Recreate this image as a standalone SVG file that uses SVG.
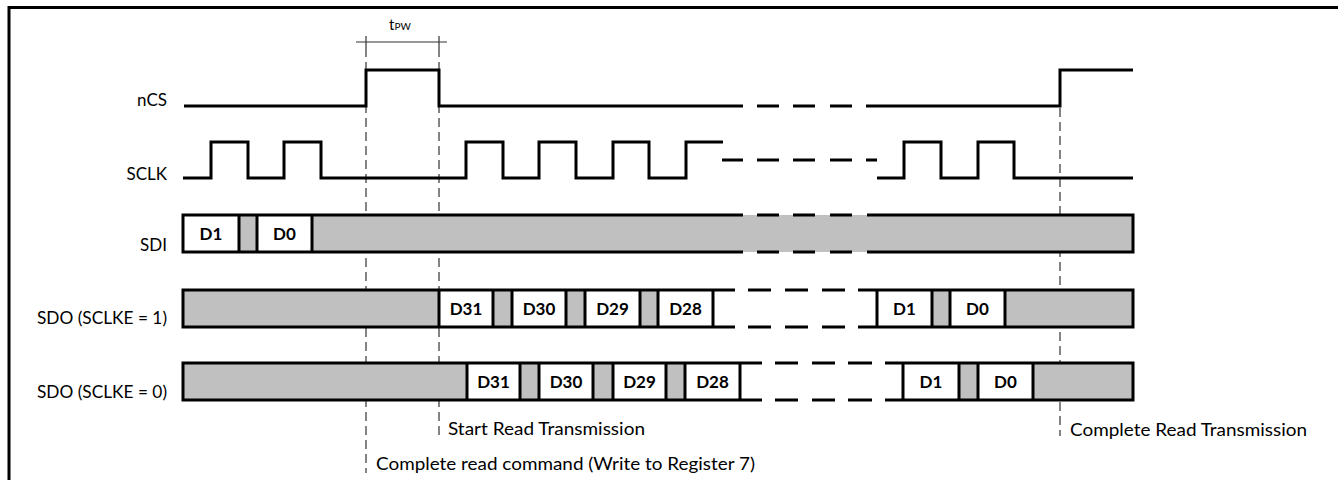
<svg xmlns="http://www.w3.org/2000/svg" width="1338" height="480" viewBox="0 0 1338 480">
<style>
.w{fill:none;stroke:#000;stroke-width:3;stroke-linejoin:miter;stroke-linecap:butt}
.g{fill:#c0c0c0;stroke:none}
.wh{fill:#fff;stroke:none}
.lbl{font-family:Lato,"Liberation Sans",sans-serif;font-size:17px;fill:#000}
.cell{font-family:Lato,"Liberation Sans",sans-serif;font-size:17px;font-weight:bold;fill:#000;text-anchor:middle}
.mk{fill:none;stroke:#333;stroke-width:1.2;stroke-dasharray:9 5}
.tk{fill:none;stroke:#333;stroke-width:1.2}
</style>
<rect width="1338" height="480" fill="#fff"/>
<path d="M9,480 V7.5 H1338" fill="none" stroke="#000" stroke-width="3"/>

<g id="markers">
  <path class="tk" d="M356,42 H447 M366,36 V48 M439,36 V48"/>
  <path class="mk" d="M366,48 V473"/>
  <path class="mk" d="M439,48 V436"/>
  <path class="mk" d="M1060,108 V436"/>
  <text x="389" y="30" font-family="Lato,'Liberation Sans',sans-serif" font-size="15" fill="#000">t<tspan font-size="10">PW</tspan></text>
  <text class="lbl" x="448" y="435" textLength="197" lengthAdjust="spacingAndGlyphs">Start Read Transmission</text>
  <text class="lbl" x="376" y="470" textLength="379" lengthAdjust="spacingAndGlyphs">Complete read command (Write to Register 7)</text>
  <text class="lbl" x="1070" y="436" textLength="237" lengthAdjust="spacingAndGlyphs">Complete Read Transmission</text>
</g>

<g id="nCS">
  <text class="lbl" x="167" y="106" text-anchor="end">nCS</text>
  <path class="w" d="M184,106 H366 V70 H439 V106 H743 M757,106 H779 M793,106 H815 M830,106 H852 M866,106 H1060 V70 H1133"/>
</g>

<g id="SCLK">
  <text class="lbl" x="167" y="180" text-anchor="end">SCLK</text>
  <path class="w" d="M183,178 H211 V142 H248 V178 H284 V142 H321 V178 H466 V142 H503 V178 H539 V142 H576 V178 H613 V142 H649 V178 H686 V142 H723"/>
  <path class="w" d="M722,160 H743 M757,160 H779 M793,160 H815 M830,160 H852 M866,160 H877"/>
  <path class="w" d="M877,178 H904 V142 H941 V178 H978 V142 H1014 V178 H1133"/>
</g>

<g id="SDI">
  <text class="lbl" x="167" y="251" text-anchor="end">SDI</text>
  <rect class="g" x="183" y="215" width="950" height="37"/>
  <rect class="wh" x="183" y="215" width="56" height="37"/>
  <rect class="wh" x="257" y="215" width="55" height="37"/>
  <path class="w" d="M183,215 H743 M757,215 H779 M793,215 H815 M830,215 H852 M867,215 H1133 M183,252 H743 M757,252 H779 M793,252 H815 M830,252 H852 M867,252 H1133 M183,213.5 V253.5 M1133,213.5 V253.5 M239,215 V252 M257,215 V252 M312,215 V252"/>
  <text class="cell" x="211" y="240">D1</text>
  <text class="cell" x="284.5" y="240">D0</text>
</g>

<g id="SDO1">
  <text class="lbl" x="167" y="324" text-anchor="end" textLength="130" lengthAdjust="spacingAndGlyphs">SDO (SCLKE = 1)</text>
  <rect class="g" x="183" y="290" width="256" height="37"/>
  <rect class="g" x="493" y="290" width="19" height="37"/>
  <rect class="g" x="566" y="290" width="19" height="37"/>
  <rect class="g" x="640" y="290" width="18" height="37"/>
  <rect class="g" x="932" y="290" width="18" height="37"/>
  <rect class="g" x="1005" y="290" width="128" height="37"/>
  <path class="w" d="M183,290 H735 M748,290 H771 M785,290 H808 M822,290 H845 M858,290 H1133 M183,327 H735 M748,327 H771 M785,327 H808 M822,327 H845 M858,327 H1133 M183,288.5 V328.5 M1133,288.5 V328.5 M439,290 V327 M493,290 V327 M512,290 V327 M566,290 V327 M585,290 V327 M640,290 V327 M658,290 V327 M713,290 V327 M877,290 V327 M932,290 V327 M950,290 V327 M1005,290 V327"/>
  <text class="cell" x="466" y="315">D31</text>
  <text class="cell" x="539" y="315">D30</text>
  <text class="cell" x="612.5" y="315">D29</text>
  <text class="cell" x="685.5" y="315">D28</text>
  <text class="cell" x="904.5" y="315">D1</text>
  <text class="cell" x="977.5" y="315">D0</text>
</g>

<g id="SDO0">
  <text class="lbl" x="167" y="398" text-anchor="end" textLength="130" lengthAdjust="spacingAndGlyphs">SDO (SCLKE = 0)</text>
  <rect class="g" x="183" y="363" width="284" height="37"/>
  <rect class="g" x="520" y="363" width="19" height="37"/>
  <rect class="g" x="593" y="363" width="20" height="37"/>
  <rect class="g" x="666" y="363" width="19" height="37"/>
  <rect class="g" x="959" y="363" width="19" height="37"/>
  <rect class="g" x="1033" y="363" width="100" height="37"/>
  <path class="w" d="M183,363 H762 M775,363 H798 M812,363 H835 M848,363 H872 M885,363 H1133 M183,400 H762 M775,400 H798 M812,400 H835 M848,400 H872 M885,400 H1133 M183,361.5 V401.5 M1133,361.5 V401.5 M467,363 V400 M520,363 V400 M539,363 V400 M593,363 V400 M613,363 V400 M666,363 V400 M685,363 V400 M740,363 V400 M903,363 V400 M959,363 V400 M978,363 V400 M1033,363 V400"/>
  <text class="cell" x="493.5" y="388">D31</text>
  <text class="cell" x="566" y="388">D30</text>
  <text class="cell" x="639.5" y="388">D29</text>
  <text class="cell" x="712.5" y="388">D28</text>
  <text class="cell" x="931" y="388">D1</text>
  <text class="cell" x="1005.5" y="388">D0</text>
</g>
</svg>
